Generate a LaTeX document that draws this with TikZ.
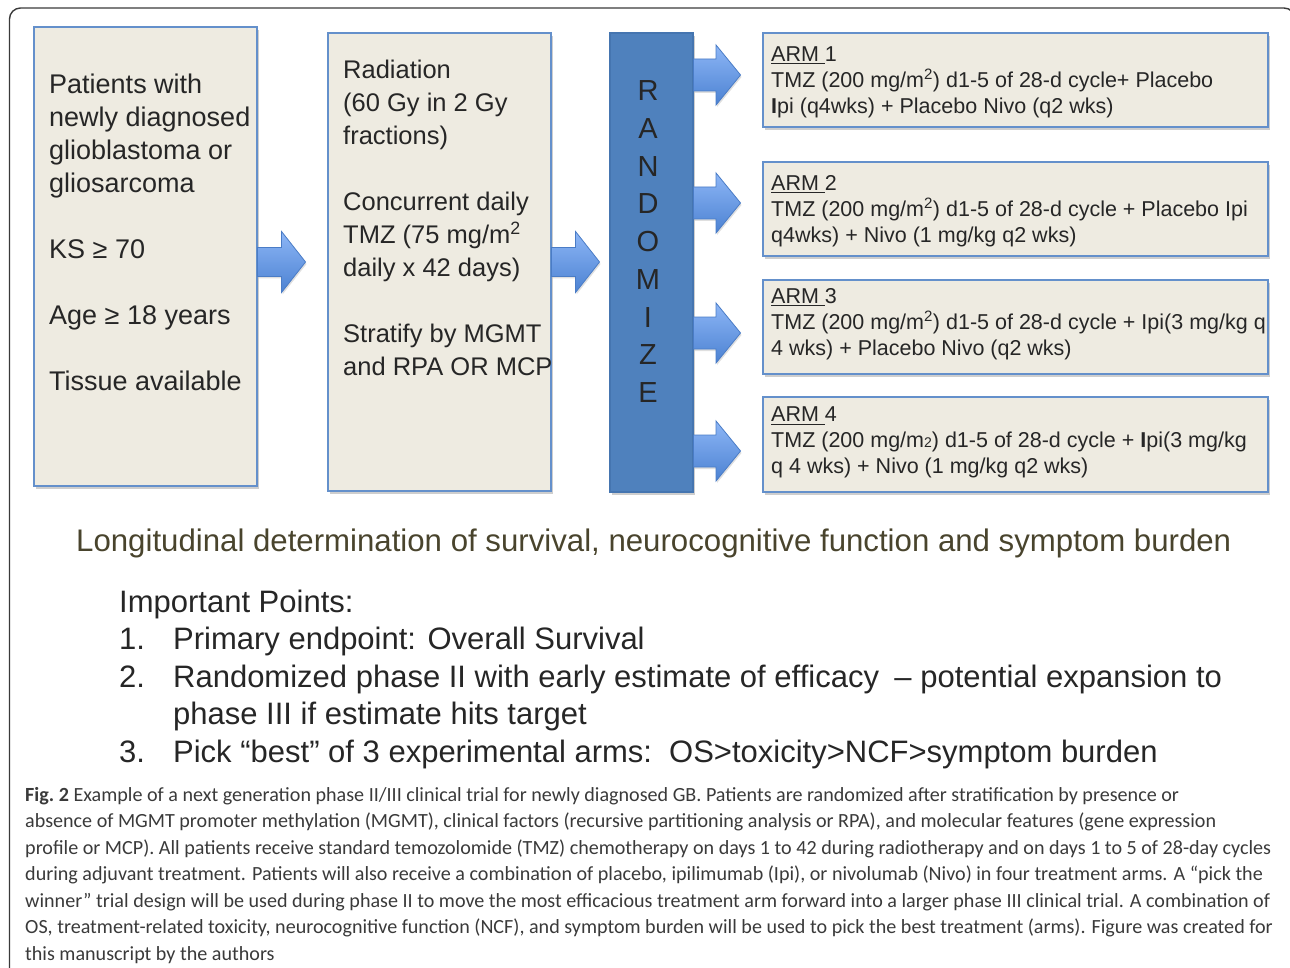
\documentclass[tikz,border=0pt]{standalone}
\usepackage{fontspec}
\setmainfont{Liberation Sans}
\newfontfamily\capfont{Carlito}
\usetikzlibrary{shadows,calc}
\definecolor{boxfill}{HTML}{EEEBE1}
\definecolor{boxborder}{HTML}{6490CB}
\definecolor{rndfill}{HTML}{4F81BD}
\definecolor{rndborder}{HTML}{4575B0}
\definecolor{arrlight}{HTML}{8DB6F6}
\definecolor{arrdark}{HTML}{4C82D2}
\definecolor{arredge}{HTML}{4A7CC6}
\definecolor{txt}{HTML}{262626}
\definecolor{olive}{HTML}{49442D}
\definecolor{captxt}{HTML}{3A3A3A}
\definecolor{frame}{HTML}{3A3A3A}
\newcommand\ulword[1]{\setbox0\hbox{#1}\rlap{\rule[-3pt]{\wd0}{1.1pt}}\box0\relax}
\newcommand\sqm{m\textsuperscript{2}}
\tikzset{
  boxsty/.style={draw=boxborder, line width=1.1pt, fill=boxfill, inner sep=0pt,
    drop shadow={shadow xshift=1.5pt, shadow yshift=-3pt, opacity=0.35, fill=black!55}},
  rndsty/.style={draw=rndborder, line width=1.1pt, fill=rndfill, inner sep=0pt,
    drop shadow={shadow xshift=1.5pt, shadow yshift=-3pt, opacity=0.35, fill=black!55}},
  bigtext/.style={anchor=north west, inner sep=0pt, align=left, text=txt,
    font=\fontsize{27}{33}\selectfont},
  armtext/.style={anchor=north west, inner sep=0pt, align=left, text=txt,
    font=\fontsize{21.5}{26}\selectfont},
  arrsty/.style={top color=arrlight, bottom color=arrdark, draw=arredge, line width=0.8pt,
    drop shadow={shadow xshift=1pt, shadow yshift=-2pt, opacity=0.25, fill=black!50}},
}
% #1 tail coordinate, #2 length, #3 head length, #4 shaft half height, #5 head half height
\newcommand\blockarrow[5]{%
  \path[arrsty, shift={(#1)}] (0,-#4) -- (#2-#3,-#4) -- (#2-#3,-#5) -- (#2,0)
     -- (#2-#3,#5) -- (#2-#3,#4) -- (0,#4) -- cycle;}
\begin{document}
\begin{tikzpicture}[x=1pt,y=-1pt]
\useasboundingbox (0,0) rectangle (1290,968);
% outer frame
\draw[frame, line width=1.4pt, rounded corners=11pt] (9.5,975) -- (9.5,8) -- (1295,8) -- (1295,975);

% boxes
\node[boxsty, minimum width=223pt, minimum height=459pt] (pat) at (145.5,256.5) {};
\node[boxsty, minimum width=223pt, minimum height=458pt] (rad) at (439.5,262) {};
\node[rndsty, minimum width=83pt, minimum height=459pt] (rnd) at (651.5,262.5) {};
\node[boxsty, minimum width=505pt, minimum height=94pt] (arm1) at (1015.5,80) {};
\node[boxsty, minimum width=505pt, minimum height=94pt] (arm2) at (1015.5,209) {};
\node[boxsty, minimum width=505pt, minimum height=94pt] (arm3) at (1015.5,327) {};
\node[boxsty, minimum width=505pt, minimum height=95pt] (arm4) at (1015.5,444.5) {};

% arrows
\coordinate (t1) at (pat.east |- 0,262);
\coordinate (t2) at (rad.east |- 0,262);
\blockarrow{t1}{48}{24}{14.5}{30.5}
\blockarrow{t2}{48}{24}{14.5}{30.5}
\coordinate (ta1) at (rnd.east |- 0,75);
\coordinate (ta2) at (rnd.east |- 0,203);
\coordinate (ta3) at (rnd.east |- 0,333);
\coordinate (ta4) at (rnd.east |- 0,451);
\blockarrow{ta1}{47}{24.5}{16}{30}
\blockarrow{ta2}{47}{24.5}{16}{30}
\blockarrow{ta3}{47}{24.5}{16}{30}
\blockarrow{ta4}{47}{24.5}{16}{30}

% box texts
\node[bigtext] (pattext) at (49,70) {\strut Patients with\\newly diagnosed\\glioblastoma or\\gliosarcoma\\[33pt]KS ≥ 70\\[33pt]Age ≥ 18 years\\[33pt]Tissue available};
\node[bigtext, font=\fontsize{25.5}{33}\selectfont] (radtext) at (343,55) {\strut Radiation\\(60 Gy in 2 Gy\\fractions)\\[33pt]Concurrent daily\\TMZ (75 mg/\sqm\\daily x 42 days)\\[33pt]Stratify by MGMT\\and RPA OR MCP};
\node[anchor=north, inner sep=0pt, align=center, text=txt, font=\fontsize{29}{37.7}\selectfont] (rndtext) at (648,74.3)
  {\strut R\\A\\N\\D\\O\\M\\I\\Z\\E};

\node[armtext] (a1text) at (771,42.8) {\strut\ulword{ARM\ }1\\TMZ (200 mg/\sqm) d1-5 of 28-d cycle+ Placebo\\\textbf{I}pi (q4wks) + Placebo Nivo (q2 wks)};
\node[armtext] (a2text) at (771,171.8) {\strut\ulword{ARM\ }2\\TMZ (200 mg/\sqm) d1-5 of 28-d cycle + Placebo Ipi\\q4wks) + Nivo (1 mg/kg q2 wks)};
\node[armtext] (a3text) at (771,284.8) {\strut\ulword{ARM\ }3\\TMZ (200 mg/\sqm) d1-5 of 28-d cycle + Ipi(3 mg/kg q\\4 wks) + Placebo Nivo (q2 wks)};
\node[armtext] (a4text) at (771,403.5) {\strut\ulword{ARM\ }4\\TMZ (200 mg/m{\fontsize{14}{14}\selectfont 2}) d1-5 of 28-d cycle + \textbf{I}pi(3 mg/kg\\q 4 wks) + Nivo (1 mg/kg q2 wks)};

% longitudinal line
\node[anchor=base west, inner sep=0pt, text=olive, font=\fontsize{31.2}{37}\selectfont] (longi) at (76,551)
  {Longitudinal determination of survival, neurocognitive function and symptom burden};

% important points
\node[anchor=north west, inner sep=0pt, align=left, text=txt, font=\fontsize{31}{37.5}\selectfont] (points) at (119,585.75)
  {\strut Important Points:\\
   \makebox[54pt][l]{1.}Primary endpoint: Overall Survival\\
   \makebox[54pt][l]{2.}Randomized phase II with early estimate of efficacy\hspace{0.5em}– potential expansion to\\
   \hspace*{54pt}phase III if estimate hits target\\
   \makebox[54pt][l]{3.}Pick “best” of 3 experimental arms:\hspace{0.55em}OS>toxicity>NCF>symptom burden};

% caption
\node[anchor=north west, inner sep=0pt, align=left, text=captxt, font=\capfont\fontsize{20.1}{26.5}\selectfont] (caption) at (25,782.5)
  {\strut\textbf{Fig.~2} Example of a next generation phase II/III clinical trial for newly diagnosed GB. Patients are randomized after stratification by presence or\\
   absence of MGMT promoter methylation (MGMT), clinical factors (recursive partitioning analysis or RPA), and molecular features (gene expression\\
   profile or MCP). All patients receive standard temozolomide (TMZ) chemotherapy on days 1 to 42 during radiotherapy and on days 1 to 5 of 28-day cycles\\
   during adjuvant treatment. Patients will also receive a combination of placebo, ipilimumab (Ipi), or nivolumab (Nivo) in four treatment arms. A “pick the\\
   winner” trial design will be used during phase II to move the most efficacious treatment arm forward into a larger phase III clinical trial. A combination of\\
   OS, treatment-related toxicity, neurocognitive function (NCF), and symptom burden will be used to pick the best treatment (arms). Figure was created for\\
   this manuscript by the authors};
\end{tikzpicture}
\end{document}
